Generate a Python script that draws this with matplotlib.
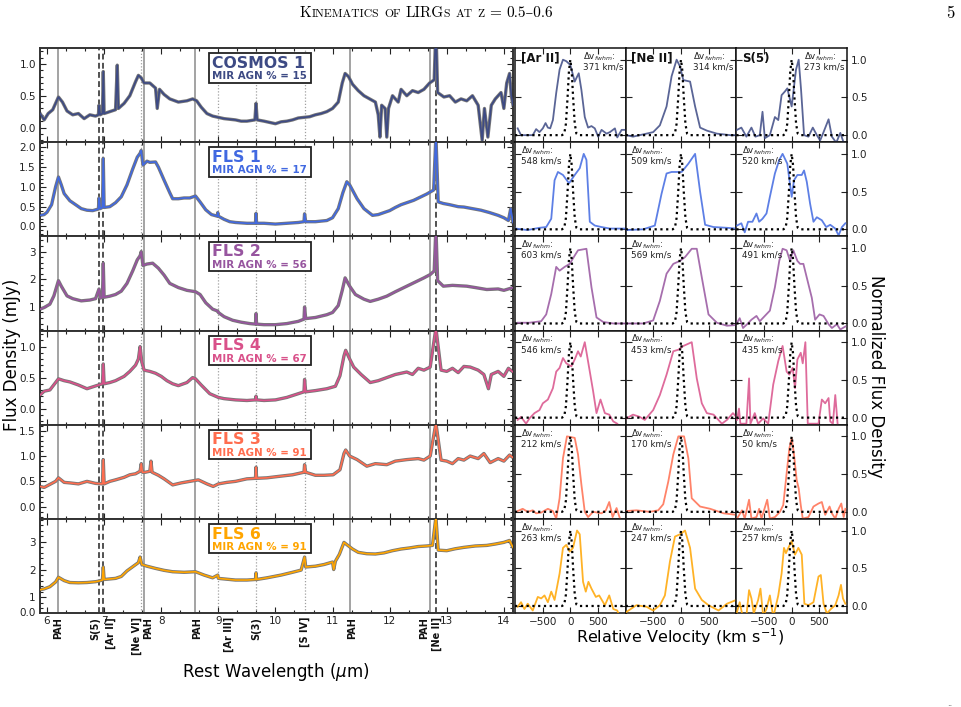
import matplotlib
matplotlib.use('Agg')
import matplotlib.pyplot as plt
from matplotlib.ticker import MultipleLocator, AutoMinorLocator, FixedLocator, FormatStrFormatter
from matplotlib.offsetbox import TextArea, HPacker, AnnotationBbox
from matplotlib.patches import Rectangle
import matplotlib.transforms as mtransforms

# ---------------- data ----------------
galaxy_names = ['COSMOS 1', 'FLS 1', 'FLS 2', 'FLS 4', 'FLS 3', 'FLS 6']
agn_percent = [15, 17, 56, 67, 91, 91]
galaxy_colors = ['#3d4a84', '#4169e1', '#97559f', '#d9518a', '#ff6d4f', '#ffa500']

feature_names = ['PAH', 'S(5)', '[Ar II]', '[Ne VI]', 'PAH', 'PAH', '[Ar III]', 'S(3)',
                 '[S IV]', 'PAH', 'PAH', '[Ne II]']
feature_wl = [6.2, 6.91, 6.985, 7.652, 7.7, 8.6, 8.991, 9.665, 10.511, 11.3, 12.7, 12.814]
feature_kind = ['pah', 'dash', 'dash', 'dot', 'pah', 'pah', 'dot', 'dot', 'dot', 'pah', 'pah', 'dash']

wl_cosmos1 = [5.88, 5.95, 6.02, 6.1, 6.2, 6.27, 6.35, 6.45, 6.55, 6.65, 6.75, 6.85, 6.9, 6.91, 6.93,
              6.97, 6.985, 7.0, 7.1, 7.2, 7.23, 7.25, 7.35, 7.45, 7.55, 7.6, 7.65, 7.7, 7.8, 7.9, 7.93,
              7.97, 8.05, 8.15, 8.3, 8.45, 8.55, 8.62, 8.7, 8.8, 8.9, 9.0, 9.1, 9.2, 9.3, 9.4, 9.5,
              9.64, 9.66, 9.68, 9.8, 9.9, 10.0, 10.1, 10.2, 10.3, 10.4, 10.5, 10.6, 10.7, 10.8, 10.9,
              11.0, 11.1, 11.17, 11.22, 11.28, 11.35, 11.45, 11.55, 11.65, 11.75, 11.8, 11.83, 11.86,
              11.92, 11.95, 11.98, 12.05, 12.15, 12.2, 12.3, 12.4, 12.5, 12.6, 12.7, 12.78, 12.81,
              12.84, 12.95, 13.05, 13.15, 13.25, 13.35, 13.45, 13.55, 13.62, 13.66, 13.72, 13.78,
              13.85, 13.95, 14.0, 14.05, 14.1, 14.13, 14.16]
fl_cosmos1 = [0.22, 0.12, 0.22, 0.28, 0.48, 0.40, 0.26, 0.20, 0.22, 0.14, 0.20, 0.18, 0.20, 0.35, 0.20,
              0.22, 0.88, 0.22, 0.25, 0.28, 0.98, 0.30, 0.38, 0.50, 0.72, 0.82, 0.78, 0.70, 0.70, 0.62, 0.30,
              0.60, 0.52, 0.45, 0.40, 0.42, 0.45, 0.42, 0.32, 0.22, 0.18, 0.16, 0.14, 0.13, 0.12, 0.10, 0.10,
              0.12, 0.38, 0.12, 0.10, 0.08, 0.06, 0.09, 0.10, 0.12, 0.15, 0.16, 0.17, 0.20, 0.22, 0.25,
              0.30, 0.40, 0.70, 0.85, 0.80, 0.68, 0.58, 0.50, 0.45, 0.40, 0.20, -0.15, 0.35,
              0.30, -0.15, 0.30, 0.50, 0.40, 0.60, 0.50, 0.58, 0.55, 0.60, 0.70, 0.75, 1.60,
              0.55, 0.48, 0.50, 0.40, 0.45, 0.42, 0.50, 0.35, -0.20, 0.30, -0.15, 0.35,
              0.45, 0.55, 0.30, 0.70, 0.85, 0.50, 0.35]

wl_fls1 = [5.88, 5.95, 6.0, 6.08, 6.15, 6.2, 6.25, 6.3, 6.4, 6.5, 6.6, 6.7, 6.8, 6.9, 6.91, 6.93, 6.97,
           6.985, 7.0, 7.1, 7.2, 7.3, 7.4, 7.5, 7.58, 7.63, 7.65, 7.68, 7.75, 7.8, 7.9, 7.95, 8.05,
           8.15, 8.2, 8.3, 8.4, 8.5, 8.6, 8.68, 8.78, 8.88, 8.98, 8.99, 9.0, 9.1, 9.2, 9.3, 9.5, 9.65,
           9.66, 9.67, 9.8, 10.0, 10.2, 10.4, 10.5, 10.51, 10.53, 10.7, 10.9, 11.0, 11.1, 11.18, 11.25,
           11.3, 11.43, 11.55, 11.7, 11.8, 11.9, 12.0, 12.1, 12.2, 12.3, 12.42, 12.55, 12.65, 12.77,
           12.81, 12.85, 12.94, 13.05, 13.2, 13.3, 13.45, 13.6, 13.75, 13.9, 14.0, 14.08, 14.12, 14.16]
fl_fls1 = [0.28, 0.30, 0.36, 0.55, 1.00, 1.25, 1.05, 0.83, 0.65, 0.55, 0.45, 0.41, 0.40, 0.44, 0.72, 0.45, 0.48,
           1.72, 0.48, 0.50, 0.60, 0.75, 1.05, 1.45, 1.75, 1.85, 1.92, 1.55, 1.65, 1.62, 1.63, 1.50, 1.17,
           0.85, 0.70, 0.70, 0.72, 0.72, 0.77, 0.62, 0.42, 0.30, 0.26, 0.35, 0.26, 0.18, 0.12, 0.10, 0.08, 0.08,
           0.33, 0.08, 0.08, 0.06, 0.08, 0.10, 0.12, 0.32, 0.12, 0.12, 0.15, 0.22, 0.45, 0.85, 1.13,
           1.05, 0.70, 0.45, 0.28, 0.30, 0.35, 0.40, 0.48, 0.55, 0.60, 0.66, 0.75, 0.82, 0.92,
           2.30, 0.62, 0.58, 0.55, 0.50, 0.49, 0.45, 0.41, 0.35, 0.28, 0.22, 0.15, 0.45, 0.10]

wl_fls2 = [5.88, 5.95, 6.05, 6.12, 6.2, 6.25, 6.35, 6.45, 6.6, 6.75, 6.85, 6.91, 6.93, 6.97, 6.985, 7.0,
           7.1, 7.2, 7.3, 7.4, 7.5, 7.58, 7.63, 7.65, 7.68, 7.75, 7.85, 7.95, 8.05, 8.15, 8.3, 8.45, 8.6,
           8.68, 8.78, 8.9, 8.99, 9.0, 9.1, 9.25, 9.4, 9.55, 9.65, 9.66, 9.67, 9.8, 10.0, 10.2, 10.4,
           10.5, 10.51, 10.53, 10.7, 10.9, 11.0, 11.1, 11.17, 11.22, 11.3, 11.4, 11.55, 11.66, 11.8,
           11.95, 12.1, 12.3, 12.45, 12.6, 12.71, 12.78, 12.81, 12.84, 12.94, 13.1, 13.35, 13.5, 13.7,
           13.9, 14.0, 14.16]
fl_fls2 = [0.92, 0.98, 1.10, 1.40, 1.95, 1.75, 1.40, 1.30, 1.22, 1.25, 1.30, 1.65, 1.32, 1.35, 2.58, 1.35,
           1.39, 1.45, 1.57, 1.85, 2.30, 2.70, 2.85, 3.00, 2.50, 2.55, 2.58, 2.40, 2.15, 1.85, 1.70, 1.60, 1.55,
           1.45, 1.15, 0.92, 0.85, 0.80, 0.65, 0.52, 0.45, 0.40, 0.38, 0.76, 0.38, 0.36, 0.36, 0.40, 0.48,
           0.56, 1.00, 0.58, 0.62, 0.72, 0.80, 1.05, 1.60, 2.05, 1.75, 1.45, 1.28, 1.20, 1.28,
           1.39, 1.55, 1.75, 1.90, 2.05, 2.17, 2.30, 3.90, 1.95, 1.75, 1.78, 1.75, 1.70, 1.63,
           1.65, 1.60, 1.70]

wl_fls4 = [5.88, 5.95, 6.05, 6.15, 6.2, 6.3, 6.4, 6.55, 6.7, 6.8, 6.9, 6.97, 6.985, 7.0, 7.1, 7.2, 7.35,
           7.45, 7.55, 7.6, 7.63, 7.66, 7.7, 7.8, 7.9, 8.0, 8.1, 8.2, 8.3, 8.45, 8.55, 8.6, 8.7, 8.85,
           9.0, 9.1, 9.3, 9.5, 9.65, 9.66, 9.67, 9.8, 10.0, 10.2, 10.4, 10.5, 10.51, 10.53, 10.7, 10.9,
           11.05, 11.13, 11.2, 11.23, 11.3, 11.37, 11.5, 11.66, 11.8, 11.95, 12.1, 12.3, 12.4, 12.5,
           12.6, 12.71, 12.81, 12.9, 13.0, 13.1, 13.2, 13.3, 13.41, 13.55, 13.65, 13.73, 13.78, 13.9,
           14.0, 14.08, 14.16]
fl_fls4 = [0.22, 0.28, 0.30, 0.42, 0.48, 0.45, 0.43, 0.38, 0.32, 0.35, 0.38, 0.40, 0.72, 0.40, 0.42, 0.45, 0.52,
           0.60, 0.70, 0.80, 1.00, 0.75, 0.62, 0.60, 0.57, 0.52, 0.45, 0.40, 0.37, 0.42, 0.50, 0.48, 0.38, 0.24,
           0.18, 0.16, 0.14, 0.13, 0.14, 0.20, 0.14, 0.13, 0.14, 0.18, 0.24, 0.27, 0.47, 0.27, 0.29, 0.32,
           0.36, 0.53, 0.85, 0.94, 0.80, 0.67, 0.55, 0.42, 0.45, 0.50, 0.55, 0.59, 0.55, 0.65,
           0.62, 0.67, 1.30, 0.62, 0.60, 0.65, 0.58, 0.68, 0.67, 0.62, 0.55, 0.32, 0.55, 0.60,
           0.52, 0.65, 0.59]

wl_fls3 = [5.88, 5.95, 6.05, 6.15, 6.2, 6.3, 6.4, 6.55, 6.7, 6.85, 6.97, 6.985, 7.0, 7.1, 7.2, 7.35, 7.45,
           7.55, 7.63, 7.65, 7.67, 7.72, 7.8, 7.82, 7.84, 7.95, 8.05, 8.2, 8.35, 8.5, 8.65, 8.8, 8.91,
           9.0, 9.15, 9.3, 9.5, 9.65, 9.66, 9.67, 9.85, 10.07, 10.3, 10.5, 10.51, 10.53, 10.7, 10.85,
           11.01, 11.13, 11.2, 11.23, 11.3, 11.43, 11.6, 11.75, 11.95, 12.1, 12.3, 12.5, 12.6, 12.71,
           12.81, 12.9, 13.0, 13.1, 13.2, 13.3, 13.41, 13.55, 13.65, 13.76, 13.9, 14.0, 14.1, 14.16]
fl_fls3 = [0.40, 0.38, 0.44, 0.50, 0.57, 0.48, 0.47, 0.45, 0.50, 0.46, 0.45, 0.93, 0.45, 0.50, 0.53, 0.58, 0.63,
           0.65, 0.70, 0.85, 0.68, 0.68, 0.70, 0.90, 0.68, 0.62, 0.55, 0.43, 0.47, 0.50, 0.53, 0.45, 0.40,
           0.45, 0.48, 0.50, 0.55, 0.56, 0.78, 0.56, 0.57, 0.60, 0.63, 0.68, 0.83, 0.68, 0.62, 0.62,
           0.63, 0.73, 1.05, 1.12, 1.00, 0.93, 0.80, 0.85, 0.83, 0.90, 0.93, 0.95, 0.92, 1.00,
           1.65, 0.92, 0.90, 0.85, 0.95, 0.92, 1.00, 0.95, 1.05, 0.87, 0.95, 0.90, 1.02, 0.97]

wl_fls6 = [5.88, 5.95, 6.05, 6.15, 6.2, 6.3, 6.4, 6.55, 6.7, 6.85, 6.9, 6.97, 6.985, 7.0, 7.1, 7.2, 7.3,
           7.4, 7.5, 7.6, 7.63, 7.66, 7.75, 7.9, 8.05, 8.2, 8.4, 8.6, 8.75, 8.9, 8.99, 9.0, 9.15, 9.3,
           9.5, 9.65, 9.66, 9.67, 9.85, 10.1, 10.3, 10.45, 10.51, 10.53, 10.7, 10.85, 11.0, 11.02,
           11.05, 11.12, 11.2, 11.28, 11.35, 11.45, 11.6, 11.75, 11.9, 12.05, 12.2, 12.35, 12.5,
           12.65, 12.75, 12.81, 12.85, 13.0, 13.15, 13.3, 13.5, 13.7, 13.85, 14.0, 14.1, 14.16]
fl_fls6 = [1.27, 1.30, 1.38, 1.55, 1.72, 1.60, 1.53, 1.52, 1.53, 1.56, 1.58, 1.62, 2.09, 1.64, 1.66, 1.68, 1.75,
           1.95, 2.10, 2.25, 2.45, 2.18, 2.12, 2.04, 1.97, 1.92, 1.90, 1.92, 1.80, 1.70, 1.80, 1.68, 1.65, 1.62,
           1.62, 1.64, 1.88, 1.64, 1.70, 1.80, 1.90, 1.98, 2.45, 2.09, 2.12, 2.18, 2.27, 2.00,
           2.30, 2.55, 2.98, 2.85, 2.74, 2.62, 2.57, 2.56, 2.60, 2.68, 2.74, 2.78, 2.83,
           2.85, 2.87, 3.90, 2.70, 2.68, 2.75, 2.80, 2.85, 2.87, 2.92, 2.98, 3.05, 2.80]

# emission-line velocity profiles (km/s, normalised flux); columns: [Ar II], [Ne II], S(5)
line_names = ['[Ar II]', '[Ne II]', 'S(5)']
dv_fwhm = [[371, 314, 273], [548, 509, 520], [603, 569, 491],
           [546, 453, 435], [212, 170, 50], [263, 247, 257]]

cosmos1_arii_v = [-952, -891, -800, -679, -618, -558, -497, -448, -406, -364, -315, -255, -194, -133, -73, 0, 79, 152, 200, 261, 321, 382, 442, 503, 564, 655, 715, 806, 848, 927, 988]
cosmos1_arii_f = [0.09, 0.0, 0.0, 0.0, 0.08, 0.04, 0.09, 0.16, 0.10, 0.09, 0.20, 0.56, 0.87, 1.0, 0.98, 0.93, 0.71, 0.82, 0.60, 0.24, 0.10, 0.12, 0.09, -0.02, 0.07, 0.02, 0.04, 0.09, -0.03, 0.07, 0.07]
cosmos1_neii_v = [-988, -867, -685, -503, -382, -261, -170, -79, -18, 42, 164, 255, 345, 467, 648, 891, 1000]
cosmos1_neii_f = [0.0, -0.02, 0.01, 0.04, 0.13, 0.38, 0.78, 1.0, 0.91, 0.73, 0.71, 0.38, 0.10, 0.06, 0.02, 0.0, 0.0]
cosmos1_s5_v = [-988, -909, -818, -727, -655, -576, -527, -485, -394, -303, -242, -182, -121, -79, 0, 79, 127, 170, 224, 303, 382, 455, 515, 576, 667, 727, 806, 879, 940]
cosmos1_s5_f = [0.07, 0.10, -0.02, 0.10, -0.02, 0.0, 0.31, -0.04, 0.0, 0.24, 0.20, 0.53, 0.58, 0.62, 0.38, 0.87, 1.0, 0.60, 0.0, -0.02, 0.10, 0.0, -0.07, 0.04, 0.21, -0.02, -0.10, 0.03, -0.10]

fls1_arii_v = [-985, -776, -558, -436, -345, -285, -224, -133, -24, 79, 170, 242, 291, 352, 442, 564, 715, 988]
fls1_arii_f = [0.01, -0.01, 0.02, 0.03, 0.14, 0.65, 0.76, 0.72, 0.61, 0.72, 0.81, 1.0, 0.92, 0.10, 0.05, 0.03, 0.01, 0.01]
fls1_neii_v = [-988, -685, -473, -352, -261, -170, -79, 12, 133, 255, 345, 436, 588, 830, 1000]
fls1_neii_f = [-0.01, 0.0, 0.05, 0.47, 0.74, 0.76, 0.76, 0.76, 0.87, 1.0, 0.50, 0.06, 0.03, 0.02, 0.01]
fls1_s5_v = [-988, -909, -848, -788, -709, -636, -588, -527, -455, -394, -303, -224, -164, -79, 0, 42, 103, 182, 224, 273, 333, 394, 455, 545, 624, 697, 788, 848, 909, 970]
fls1_s5_f = [0.05, 0.08, -0.04, 0.10, 0.10, 0.21, 0.10, 0.14, 0.21, 0.43, 0.74, 0.92, 1.0, 0.87, 0.43, 0.65, 0.72, 0.72, 0.78, 0.63, 0.34, 0.10, 0.16, 0.12, 0.03, 0.06, 0.01, -0.08, 0.03, 0.08]

fls2_arii_v = [-952, -739, -527, -436, -345, -255, -194, -103, -12, 79, 139, 291, 382, 473, 594, 776, 988]
fls2_arii_f = [0.01, 0.01, 0.03, 0.12, 0.39, 0.75, 0.70, 0.75, 0.79, 0.90, 0.97, 0.99, 0.48, 0.08, 0.02, 0.0, 0.0]
fls2_neii_v = [-988, -685, -503, -382, -261, -139, -18, 73, 194, 285, 376, 497, 648, 830, 1000]
fls2_neii_f = [0.0, 0.0, 0.04, 0.30, 0.66, 0.79, 0.83, 0.88, 0.99, 0.99, 0.61, 0.12, 0.01, -0.03, -0.02]
fls2_s5_v = [-988, -939, -879, -806, -727, -636, -576, -485, -394, -303, -224, -164, -91, -30, 30, 103, 152, 212, 303, 364, 424, 503, 576, 667, 727, 818, 879, 970]
fls2_s5_f = [0.01, 0.07, -0.06, -0.01, 0.05, 0.10, 0.03, 0.10, 0.17, 0.48, 0.83, 0.99, 0.97, 0.83, 0.97, 0.83, 0.79, 0.79, 0.52, 0.34, 0.05, 0.12, 0.10, -0.01, -0.06, -0.01, -0.08, -0.04]

fls4_arii_v = [-952, -891, -800, -739, -648, -558, -497, -406, -315, -255, -194, -133, -73, 18, 79, 139, 188, 261, 352, 412, 473, 545, 624, 703, 776, 848]
fls4_arii_f = [-0.03, 0.01, -0.08, -0.01, 0.06, 0.10, 0.19, 0.24, 0.39, 0.61, 0.66, 0.79, 0.72, 0.68, 0.77, 0.88, 0.81, 1.0, 0.61, 0.35, 0.06, 0.24, 0.06, 0.04, -0.05, -0.08]
fls4_neii_v = [-988, -867, -745, -655, -503, -382, -261, -139, -48, 42, 194, 285, 376, 467, 588, 739, 830, 939, 1000]
fls4_neii_f = [-0.01, 0.04, 0.01, -0.03, 0.10, 0.30, 0.57, 0.88, 0.90, 0.95, 1.0, 0.52, 0.19, 0.06, 0.04, -0.08, -0.03, 0.06, 0.01]
fls4_s5_v = [-988, -952, -927, -818, -770, -745, -667, -606, -515, -424, -333, -242, -164, -91, -42, 18, 61, 103, 164, 200, 248, 291, 394, 485, 545, 606, 667, 697, 745, 788, 830]
fls4_s5_f = [-0.03, 0.12, -0.08, -0.08, 0.52, -0.08, 0.06, -0.08, -0.01, -0.08, 0.44, 0.75, 0.95, 0.61, 0.57, 0.66, 0.39, 0.77, 0.86, 0.72, 1.0, -0.08, -0.08, -0.08, 0.24, 0.19, 0.26, -0.05, -0.08, 0.30, -0.08]

fls3_arii_v = [-952, -861, -770, -679, -618, -527, -406, -315, -255, -194, -133, -61, 79, 139, 200, 261, 321, 412, 564, 642, 703, 764, 836, 897]
fls3_arii_f = [0.01, 0.04, 0.0, 0.02, -0.02, -0.01, 0.04, 0.01, -0.09, 0.18, 0.71, 1.0, 0.98, 0.76, 0.36, 0.0, -0.07, 0.0, -0.02, 0.02, 0.13, -0.07, 0.05, -0.09]
fls3_neii_v = [-988, -806, -564, -412, -321, -230, -139, -48, 55, 133, 194, 345, 527, 770, 1000]
fls3_neii_f = [0.01, 0.02, 0.0, 0.02, 0.10, 0.40, 0.76, 1.0, 1.0, 0.71, 0.18, 0.07, 0.04, -0.02, -0.04]
fls3_s5_v = [-988, -897, -848, -770, -727, -636, -588, -545, -442, -394, -303, -212, -152, -91, -42, 0, 42, 91, 127, 164, 200, 303, 394, 485, 545, 606, 685, 727, 788, 848, 897, 940, 970]
fls3_s5_f = [-0.09, 0.02, -0.09, 0.16, -0.09, -0.07, 0.04, -0.09, 0.16, -0.09, -0.07, 0.0, 0.09, 0.51, 0.84, 0.98, 0.76, 0.42, 0.31, 0.09, -0.09, -0.07, 0.07, 0.11, 0.13, -0.04, 0.07, -0.02, -0.09, 0.04, 0.11, -0.07, 0.04]

fls6_arii_v = [-952, -891, -830, -770, -679, -588, -527, -467, -406, -345, -285, -194, -133, -73, -12, 48, 121, 170, 230, 279, 327, 382, 461, 521, 624, 703, 776, 848, 897]
fls6_arii_f = [-0.01, 0.05, -0.04, 0.03, -0.06, 0.12, 0.10, 0.14, 0.05, 0.19, 0.08, 0.43, 0.77, 0.81, 0.72, 0.77, 1.0, 0.95, 0.32, 0.19, 0.32, 0.23, 0.12, 0.14, 0.01, 0.14, -0.04, -0.06, -0.15]
fls6_neii_v = [-988, -806, -624, -503, -382, -291, -200, -109, -18, 73, 164, 255, 376, 497, 679, 830, 1000]
fls6_neii_f = [-0.08, 0.01, -0.01, -0.06, 0.01, 0.14, 0.59, 0.92, 0.95, 1.0, 0.77, 0.23, 0.08, 0.01, -0.06, 0.03, 0.08]
fls6_s5_v = [-988, -939, -897, -818, -770, -727, -685, -606, -564, -515, -455, -394, -333, -242, -182, -139, -103, -61, 0, 61, 121, 182, 230, 303, 394, 485, 527, 576, 636, 709, 788, 848, 891, 927, 970]
fls6_s5_f = [-0.08, 0.05, -0.10, -0.13, 0.21, 0.10, -0.10, 0.08, 0.23, -0.13, -0.04, 0.14, -0.15, 0.14, 0.43, 0.77, 0.70, 0.77, 0.86, 0.68, 0.77, 0.68, 0.03, 0.01, 0.05, 0.39, 0.41, 0.03, -0.10, -0.04, 0.01, 0.14, 0.28, 0.10, 0.03]

# instrumental (unresolved) line profile
instr_v = [-1000, -150, -110, -80, -50, -25, 0, 25, 50, 80, 110, 150, 1000]
instr_f = [0.0, 0.0, 0.02, 0.15, 0.5, 0.85, 1.0, 0.85, 0.5, 0.15, 0.02, 0.0, 0.0]

spectra_wl = [wl_cosmos1, wl_fls1, wl_fls2, wl_fls4, wl_fls3, wl_fls6]
spectra_fl = [fl_cosmos1, fl_fls1, fl_fls2, fl_fls4, fl_fls3, fl_fls6]
profiles = [
    [(cosmos1_arii_v, cosmos1_arii_f), (cosmos1_neii_v, cosmos1_neii_f), (cosmos1_s5_v, cosmos1_s5_f)],
    [(fls1_arii_v, fls1_arii_f), (fls1_neii_v, fls1_neii_f), (fls1_s5_v, fls1_s5_f)],
    [(fls2_arii_v, fls2_arii_f), (fls2_neii_v, fls2_neii_f), (fls2_s5_v, fls2_s5_f)],
    [(fls4_arii_v, fls4_arii_f), (fls4_neii_v, fls4_neii_f), (fls4_s5_v, fls4_s5_f)],
    [(fls3_arii_v, fls3_arii_f), (fls3_neii_v, fls3_neii_f), (fls3_s5_v, fls3_s5_f)],
    [(fls6_arii_v, fls6_arii_f), (fls6_neii_v, fls6_neii_f), (fls6_s5_v, fls6_s5_f)],
]

row_ylims = [(-0.23, 1.25), (-0.25, 2.13), (0.15, 3.55), (-0.26, 1.26), (-0.24, 1.62), (0.43, 3.83)]
row_yticks = [[0.0, 0.5, 1.0], [0.0, 0.5, 1.0, 1.5, 2.0], [1, 2, 3], [0.0, 0.5, 1.0],
              [0.0, 0.5, 1.0, 1.5], [1, 2, 3]]
row_fmt = ['%.1f', '%.1f', '%d', '%.1f', '%.1f', '%d']
wl_ticks = [6, 7, 8, 9, 10, 11, 12, 13, 14]
vel_ticks = [-500, 0, 500]
norm_ticks = [0.0, 0.5, 1.0]

# ---------------- figure ----------------
W, H = 961, 707
fig = plt.figure(figsize=(W / 100, H / 100), dpi=100)
top = 1 - 48 / H
bottom = 1 - 613 / H
gsL = fig.add_gridspec(6, 1, left=40 / W, right=513 / W, top=top, bottom=bottom, hspace=0)
gsR = fig.add_gridspec(6, 3, left=515 / W, right=847 / W, top=top, bottom=bottom, hspace=0, wspace=0)

tick_col = '#222222'
label_offsets = [0.0, -0.07, 0.14, -0.07, 0.07, 0.02, 0.2, 0.0, 0.0, 0.04, -0.09, 0.005]

for i in range(6):
    ax = fig.add_subplot(gsL[i, 0])
    col = galaxy_colors[i]
    for wl, kind in zip(feature_wl, feature_kind):
        if kind == 'pah':
            ax.axvline(wl, color='#8a8a8a', lw=1.1, zorder=1)
        elif kind == 'dash':
            ax.axvline(wl, color='#333333', lw=1.2, ls=(0, (3.5, 2)), zorder=1)
        else:
            ax.axvline(wl, color='#a0a0a0', lw=0.9, ls=(0, (1, 1.5)), zorder=1)
    ax.plot(spectra_wl[i], spectra_fl[i], color='#777777', lw=2.4, zorder=2, solid_joinstyle='round')
    ax.plot(spectra_wl[i], spectra_fl[i], color=col, lw=1.2, zorder=3)
    ax.set_xlim(5.877, 14.16)
    ax.set_ylim(*row_ylims[i])
    ax.xaxis.set_major_locator(FixedLocator(wl_ticks))
    ax.xaxis.set_minor_locator(MultipleLocator(1 / 3))
    ax.yaxis.set_major_locator(FixedLocator(row_yticks[i]))
    ax.yaxis.set_minor_locator(AutoMinorLocator(5))
    ax.yaxis.set_major_formatter(FormatStrFormatter(row_fmt[i]))
    ax.tick_params(which='both', direction='in', top=True, right=True, colors=tick_col,
                   labelsize=7.5, width=0.8, pad=3)
    ax.tick_params(which='major', length=4)
    ax.tick_params(which='minor', length=2)
    for s in ax.spines.values():
        s.set_color('#333333')
        s.set_linewidth(1.4)
    if i < 5:
        ax.tick_params(labelbottom=False)
    else:
        ax.tick_params(axis='x', pad=2)
        trans = mtransforms.blended_transform_factory(ax.transData, ax.transAxes)
        for name, wl, off in zip(feature_names, feature_wl, label_offsets):
            ax.text(wl + off, -0.04, name, transform=trans, rotation=90, ha='center', va='top',
                    fontsize=7, fontweight='bold', color='#111111')
        ax.text(-0.01, 0.0, '0.0', transform=ax.transAxes, ha='right', va='center',
                fontsize=7.5, color=tick_col)
    # label box
    ax.add_patch(Rectangle((0.357, 0.632), 0.216, 0.312, transform=ax.transAxes, facecolor='white',
                           edgecolor='#222222', lw=1.3, zorder=5))
    ax.text(0.364, 0.79, galaxy_names[i], transform=ax.transAxes, ha='left', va='baseline',
            fontsize=11.3, fontweight='bold', color=col, zorder=6)
    ax.text(0.364, 0.668, 'MIR AGN %% = %d' % agn_percent[i], transform=ax.transAxes,
            ha='left', va='baseline', fontsize=7.4, fontweight='bold', color=col, zorder=6)

for i in range(6):
    for j in range(3):
        ax = fig.add_subplot(gsR[i, j])
        v, f = profiles[i][j]
        ax.plot(v, f, color=galaxy_colors[i], lw=1.3, alpha=0.85, zorder=3)
        ax.plot(instr_v, instr_f, color='black', lw=1.6, ls=(0, (1, 1.6)), zorder=4)
        ax.set_xlim(-1000, 1000)
        ax.set_ylim(-0.093, 1.155)
        ax.xaxis.set_major_locator(FixedLocator(vel_ticks))
        ax.yaxis.set_major_locator(FixedLocator(norm_ticks))
        ax.yaxis.set_major_formatter(FormatStrFormatter('%.1f'))
        ax.tick_params(direction='in', top=True, right=True, left=True, bottom=True, length=4,
                       width=0.8, colors=tick_col, labelsize=7.5, labelleft=False,
                       labelbottom=(i == 5), labelright=(j == 2), pad=3)
        for s in ax.spines.values():
            s.set_color('#111111')
            s.set_linewidth(1.1)
        dv_txt = '$\\Delta$v$_{fwhm}$:\n%d km/s' % dv_fwhm[i][j]
        if i == 0:
            ax.text(0.05, 0.96, line_names[j], transform=ax.transAxes, ha='left', va='top',
                    fontsize=8.5, fontweight='bold', color='#111111')
            ax.text(0.61, 0.975, dv_txt, transform=ax.transAxes, ha='left', va='top',
                    fontsize=6.3, color='#222222', linespacing=0.95)
        else:
            ax.text(0.05, 0.975, dv_txt, transform=ax.transAxes, ha='left', va='top',
                    fontsize=6.3, color='#222222', linespacing=0.95)

# axis titles
fig.text(0.0125, 0.498, 'Flux Density (mJy)', rotation=90, ha='center', va='center', fontsize=12)
fig.text(0.287, 0.0495, 'Rest Wavelength ($\\mu$m)', ha='center', va='center', fontsize=12)
fig.text(0.7076, 1 - 637 / H, 'Relative Velocity (km s$^{-1}$)', ha='center', va='center', fontsize=11.5)
fig.text(0.9115, 0.468, 'Normalized Flux Density', rotation=270, ha='center', va='center', fontsize=12)

# running head in small caps
serif = ['cmr10', 'DejaVu Serif']
big = dict(fontsize=11, family=serif)
small = dict(fontsize=8.4, family=serif)
words = [[('K', big), ('INEMATICS', small)], [('OF', small)], [('LIRG', big), ('S', small)],
         [('AT', small)], [('Z', small)], [('=', big)], [('0.5\u20130.6', big)]]
word_boxes = [HPacker(children=[TextArea(s, textprops=p) for s, p in w], align='baseline', pad=0, sep=0)
              for w in words]
head = HPacker(children=word_boxes, align='baseline', pad=0, sep=3.6)
ab = AnnotationBbox(head, (300 / W, 1 - 13 / H), xycoords='figure fraction', box_alignment=(0, 0.5),
                    frameon=False, pad=0)
fig.add_artist(ab)
fig.text(950 / W, 1 - 13 / H, '5', ha='center', va='center', fontsize=12, family=serif)
fig.text(950 / W, 1 - 703 / H, '..', ha='center', va='center', fontsize=6, color='#444444')

fig.savefig('out.png', dpi=100)
